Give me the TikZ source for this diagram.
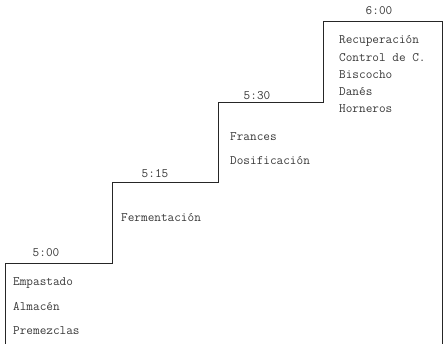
\documentclass[tikz,border=0pt]{standalone}
\usepackage{fontspec}
\begin{document}
\begin{tikzpicture}[x=1pt,y=-1pt,
  lbl/.style={font=\ttfamily\fontsize{12.9}{14}\selectfont, text=black!78, inner sep=0pt, anchor=west},
  tm/.style={font=\ttfamily\fontsize{12.9}{14}\selectfont, text=black!78, inner sep=0pt, anchor=center},
  stair/.style={line width=1pt, black!85}]
\useasboundingbox (0,0) rectangle (443,344);
% staircase
\coordinate (b0) at (5,344);
\coordinate (s1l) at (5,263);
\coordinate (s1r) at (112,263);
\coordinate (s2l) at (112,183);
\coordinate (s2r) at (218,183);
\coordinate (s3l) at (218,103);
\coordinate (s3r) at (323,103);
\coordinate (s4l) at (323,22);
\coordinate (s4r) at (442,22);
\coordinate (b4) at (442,344);
\draw[stair] (b0) -- (s1l) -- (s1r) -- (s2l) -- (s2r) -- (s3l) -- (s3r) -- (s4l) -- (s4r) -- (b4);
% time labels
\node[tm] (t1) at (46,253) {5:00};
\node[tm] (t2) at (155,174) {5:15};
\node[tm] (t3) at (257,96) {5:30};
\node[tm] (t4) at (379,11) {6:00};
% step 1
\node[lbl] (a1) at (13,283) {Empastado};
\node[lbl] (a2) at (13,307) {Almacén};
\node[lbl] (a3) at (13,331) {Premezclas};
% step 2
\node[lbl] (b1) at (121,218) {Fermentación};
% step 3
\node[lbl] (c1) at (230,137) {Frances};
\node[lbl] (c2) at (230,161) {Dosificación};
% step 4
\node[lbl] (d1) at (339,41) {Recuperación};
\node[lbl] (d2) at (339,58) {Control de C.};
\node[lbl] (d3) at (339,75) {Biscocho};
\node[lbl] (d4) at (339,92) {Danés};
\node[lbl] (d5) at (339,109) {Horneros};
\end{tikzpicture}
\end{document}
